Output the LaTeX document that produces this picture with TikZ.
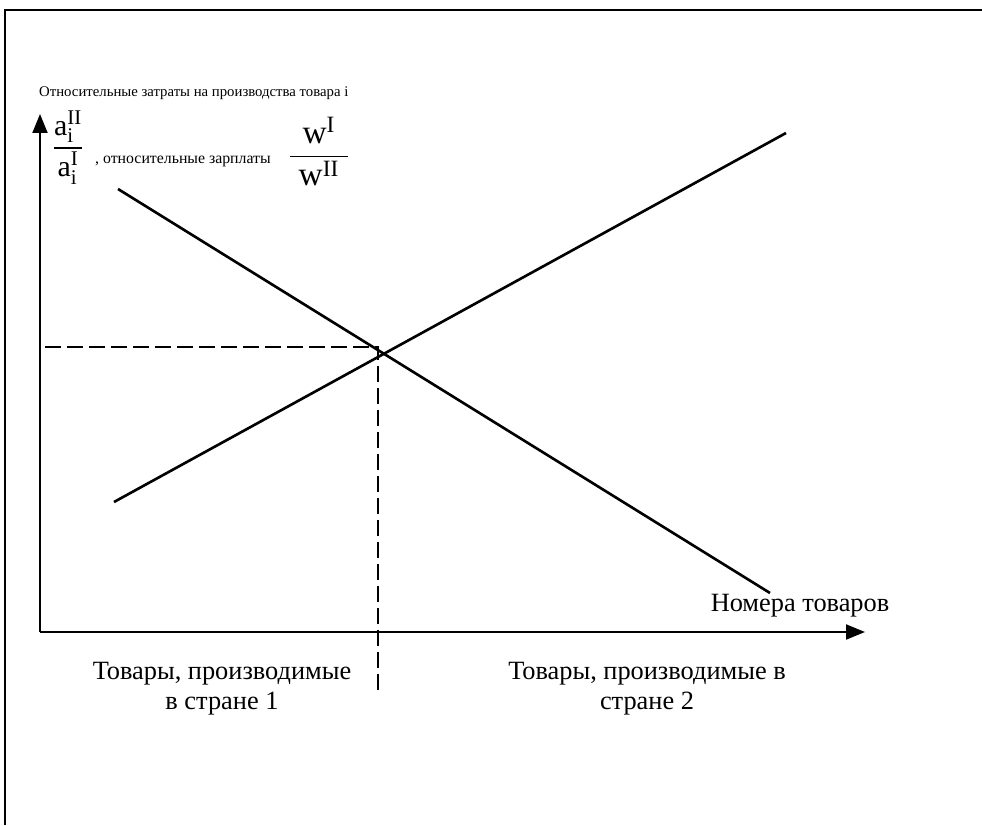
\documentclass[tikz,border=0pt]{standalone}
\usepackage{fontspec}
\setmainfont{Liberation Serif}
\usepackage{amsmath}
\usetikzlibrary{arrows.meta,positioning}

\begin{document}
\begin{tikzpicture}[node distance=0.1cm, every node/.style={font=\fontsize{15}{17}\selectfont},
	axis/.style={line width=1.1pt, -{Triangle[length=0.38cm, width=0.3cm]}},
	curve/.style={line width=1.5pt},
	guide/.style={line width=0.6pt, dash pattern=on 0.32cm off 0.12cm}]
	\useasboundingbox (0,0) rectangle (19.64,16.5);
	% frame
	\draw[line width=1.2pt] (0.1,0) -- (0.1,16.3) -- (19.64,16.3);
	
	\coordinate (o) at (0.8,3.86);
	\coordinate (ytip) at (0.8,14.22);
	\coordinate (xtip) at (17.3,3.86);
	\draw[axis] (o) -- (ytip);
	\draw[axis] (o) -- (xtip);
	
	% cost and wage lines
	\coordinate (c1) at (2.36,12.72);
	\coordinate (c2) at (15.4,4.64);
	\coordinate (w1) at (2.28,6.46);
	\coordinate (w2) at (15.72,13.84);
	\draw[curve] (c1) -- (c2);
	\draw[curve] (w1) -- (w2);
	
	\coordinate (eq) at (7.56,9.56);
	\coordinate (eqy) at (0.9,9.56);
	\coordinate (eqx) at (7.56,2.66);
	\draw[guide] (eqy) -- (eq) -- (eqx);
	
	\node[anchor=west, font=\fontsize{8.4}{10}\selectfont] (title) at (0.66,14.64) {Относительные затраты на производства товара i};
	\node[anchor=west, inner sep=1pt, font=\fontsize{17}{19}\selectfont] (fa) at (1.0,13.55) {$\dfrac{\mathrm{a}_{\mathrm{i}}^{\mathrm{II}}}{\mathrm{a}_{\mathrm{i}}^{\mathrm{I}}}$};
	\node[right=0.05cm of fa, yshift=-0.28cm, font=\fontsize{9}{10}\selectfont] (ylbl) {, относительные зарплаты};
	\node[right=0.1cm of ylbl, yshift=0.2cm, font=\fontsize{19}{21}\selectfont] (fw) {$\dfrac{\;\mathrm{w}^{\mathrm{I}}\;}{\;\mathrm{w}^{\mathrm{II}}\;}$};
	
	\node (xlbl) at (16.0,4.38) {Номера товаров};
	\node[align=center] (land1) at (4.44,2.72) {Товары, производимые\\в стране 1};
	\node[align=center] (land2) at (12.94,2.72) {Товары, производимые в\\стране 2};
\end{tikzpicture}
\end{document}
